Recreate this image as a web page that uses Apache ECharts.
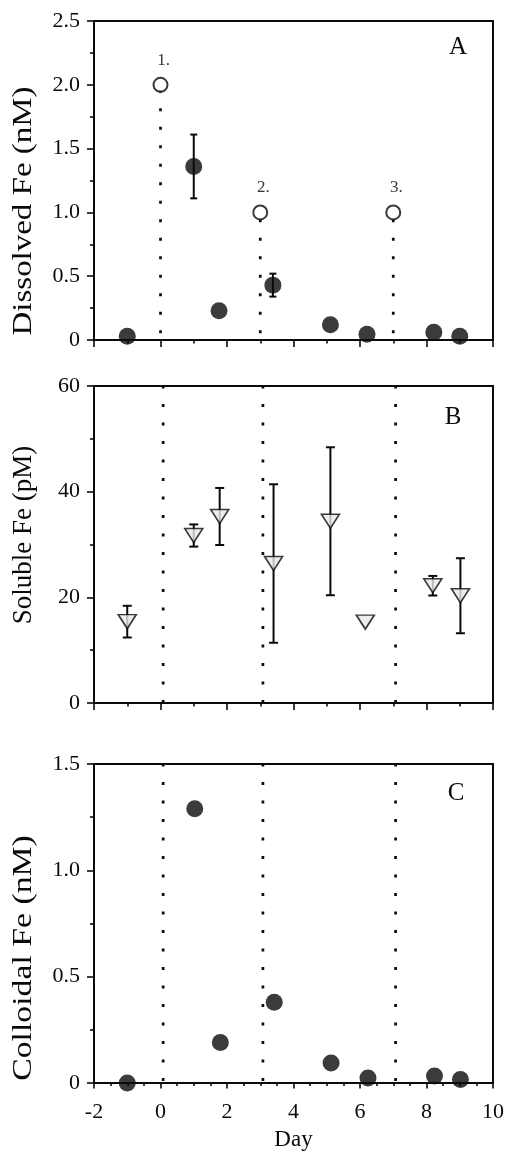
<!DOCTYPE html>
<html>
<head>
<meta charset="utf-8">
<script src="https://cdn.jsdelivr.net/npm/echarts@6/dist/echarts.min.js"></script>
<style>
  html, body { margin: 0; padding: 0; background: #fff; }
  #chart { width: 508px; height: 1152px; }
</style>
</head>
<body>
<div id="chart"></div>
<script>
// ---------------- data ----------------
// Panel A: dissolved Fe (nM)
const dissolvedDays = [-1.0, 1.0, 1.76, 3.38, 5.11, 6.21, 8.22, 9.0];
const dissolvedFe   = [0.03, 1.36, 0.23, 0.43, 0.12, 0.045, 0.06, 0.03];
const dissolvedErr  = [0, 0.25, 0, 0.09, 0, 0, 0, 0];
// Fe additions (open circles + dotted lines in A)
const additionDays   = [0, 3, 7];
const additionFe     = [2.0, 1.0, 1.0];
const additionLabels = ['1.', '2.', '3.'];
// Panel B: soluble Fe (pM)
const solubleDays = [-1.0, 1.0, 1.78, 3.4, 5.11, 6.16, 8.19, 9.02];
const solubleFe   = [15.4, 31.7, 35.3, 26.4, 34.4, 15.3, 22.2, 20.3];
const solubleErr  = [3.0, 2.1, 5.4, 15.0, 14.0, 0, 1.85, 7.1];
// Panel C: colloidal Fe (nM)
const colloidalDays = [-1.0, 1.03, 1.8, 3.42, 5.13, 6.24, 8.24, 9.02];
const colloidalFe   = [0.0, 1.29, 0.19, 0.38, 0.094, 0.024, 0.033, 0.016];
// addition marker lines in B and C
const additionDaysBC = [0.08, 3.08, 7.07];
// axis ticks / labels
const xTickLabels  = ['-2', '0', '2', '4', '6', '8', '10'];
const yTickLabelsA = ['0', '0.5', '1.0', '1.5', '2.0', '2.5'];
const yTickLabelsB = ['0', '20', '40', '60'];
const yTickLabelsC = ['0', '0.5', '1.0', '1.5'];
const yTitles = ['Dissolved Fe (nM)', 'Soluble Fe (pM)', 'Colloidal Fe (nM)'];
const panelLetters = ['A', 'B', 'C'];

// ---------------- styles ----------------
const INK = '#0a0a0a';
const FONT = "'Liberation Serif', 'Times New Roman', serif";
const grids = [
  { left: 94, top: 21, width: 399, height: 319 },
  { left: 94, top: 386, width: 399, height: 317 },
  { left: 94, top: 764, width: 399, height: 319 }
];

function xAxis(i) {
  const isC = i === 2;
  return {
    type: 'value', gridIndex: i, min: -2, max: 10, interval: 2,
    splitLine: { show: false },
    axisLine: { show: true, onZero: false, lineStyle: { color: INK, width: 2 } },
    axisTick: { show: true, inside: false, length: isC ? 5.5 : 7, lineStyle: { color: INK, width: 1.6 } },
    minorTick: { show: true, splitNumber: isC ? 4 : 2, length: isC ? 3 : 3.5, lineStyle: { color: INK, width: 1.6 } },
    axisLabel: {
      show: isC, margin: 18, color: INK, fontFamily: FONT, fontSize: 22,
      formatter: (v) => xTickLabels[Math.round((v + 2) / 2)]
    },
    name: isC ? 'Day' : '',
    nameLocation: 'middle', nameGap: 45,
    nameTextStyle: { color: INK, fontFamily: FONT, fontSize: 23 }
  };
}
function yAxis(i, max, interval, labels) {
  return {
    type: 'value', gridIndex: i, min: 0, max: max, interval: interval,
    splitLine: { show: false },
    axisLine: { show: true, onZero: false, lineStyle: { color: INK, width: 2 } },
    axisTick: { show: true, length: 7, lineStyle: { color: INK, width: 1.6 } },
    minorTick: { show: true, splitNumber: 2, length: 4, lineStyle: { color: INK, width: 1.6 } },
    axisLabel: {
      margin: 14, color: INK, fontFamily: FONT, fontSize: 22,
      formatter: (v) => labels[Math.round(v / interval)]
    }
  };
}

function dottedLine(gi, day, top, offset) {
  return {
    type: 'line', xAxisIndex: gi, yAxisIndex: gi, silent: true, symbol: 'none', z: 1,
    data: [[day, 0], [day, top]],
    lineStyle: { color: INK, width: 2.7, type: [3, 15.5], dashOffset: offset }
  };
}

function errorBars(gi, days, vals, errs, capHalf) {
  const data = [];
  days.forEach((d, i) => { if (errs[i] > 0) data.push([d, vals[i] - errs[i], vals[i] + errs[i]]); });
  return {
    type: 'custom', xAxisIndex: gi, yAxisIndex: gi, silent: true, z: 2,
    data: data,
    renderItem: (params, api) => {
      const x = api.value(0);
      const lo = api.coord([x, api.value(1)]);
      const hi = api.coord([x, api.value(2)]);
      const st = { stroke: INK, lineWidth: 2 };
      return {
        type: 'group', children: [
          { type: 'line', shape: { x1: lo[0], y1: lo[1], x2: hi[0], y2: hi[1] }, style: st },
          { type: 'line', shape: { x1: hi[0] - capHalf, y1: hi[1], x2: hi[0] + capHalf, y2: hi[1] }, style: st },
          { type: 'line', shape: { x1: lo[0] - capHalf, y1: lo[1], x2: lo[0] + capHalf, y2: lo[1] }, style: st }
        ]
      };
    }
  };
}

const zip = (a, b) => a.map((v, i) => [v, b[i]]);

const series = [];
// Panel A
additionDays.forEach((d, i) => series.push(dottedLine(0, d, additionFe[i], 11.7)));
series.push(errorBars(0, dissolvedDays, dissolvedFe, dissolvedErr, 3.5));
series.push({
  type: 'scatter', xAxisIndex: 0, yAxisIndex: 0, clip: false, z: 3,
  data: zip(dissolvedDays, dissolvedFe), symbol: 'circle', symbolSize: 17,
  itemStyle: { color: INK }
});
series.push({
  type: 'scatter', xAxisIndex: 0, yAxisIndex: 0, clip: false, z: 3,
  data: zip(additionDays, additionFe), symbol: 'circle', symbolSize: 14,
  itemStyle: { color: '#fff', borderColor: INK, borderWidth: 2 },
  label: {
    show: true, position: 'top', distance: 8, offset: [3, 0],
    formatter: (p) => additionLabels[p.dataIndex],
    color: '#000', fontFamily: FONT, fontSize: 17
  }
});
// Panel B
additionDaysBC.forEach((d) => series.push(dottedLine(1, d, 60, 0)));
series.push(errorBars(1, solubleDays, solubleFe, solubleErr, 4.5));
series.push({
  type: 'scatter', xAxisIndex: 1, yAxisIndex: 1, clip: false, z: 3,
  data: zip(solubleDays, solubleFe), symbol: 'triangle', symbolSize: [18, 14], symbolRotate: 180,
  itemStyle: { color: '#e8e8e8', borderColor: INK, borderWidth: 1.6 }
});
// Panel C
additionDaysBC.forEach((d) => series.push(dottedLine(2, d, 1.5, 16.6)));
series.push({
  type: 'scatter', xAxisIndex: 2, yAxisIndex: 2, clip: false, z: 3,
  data: zip(colloidalDays, colloidalFe), symbol: 'circle', symbolSize: 17,
  itemStyle: { color: INK }
});

// y-axis titles and panel letters as text
const titleCenters = [[24, 211, 1.22], [24, 535, 1.0], [24, 958, 1.25]];
const letterPos = [[458, 47], [453, 417], [456, 793]];
const graphic = [];
yTitles.forEach((t, i) => {
  graphic.push({
    type: 'text', x: titleCenters[i][0], y: titleCenters[i][1], rotation: Math.PI / 2,
    scaleX: titleCenters[i][2], silent: true,
    style: { text: t, fill: INK, font: "27px 'Liberation Serif', serif", textAlign: 'center', textVerticalAlign: 'middle' }
  });
});
panelLetters.forEach((t, i) => {
  graphic.push({
    type: 'text', x: letterPos[i][0], y: letterPos[i][1], silent: true,
    style: { text: t, fill: INK, font: "25px 'Liberation Serif', serif", textAlign: 'center', textVerticalAlign: 'middle' }
  });
});

const chart = echarts.init(document.getElementById('chart'), null, { renderer: 'canvas' });
chart.setOption({
  animation: false,
  backgroundColor: '#fff',
  grid: grids.map(g => Object.assign({ show: true, borderColor: INK, borderWidth: 2, backgroundColor: 'transparent' }, g)),
  xAxis: [xAxis(0), xAxis(1), xAxis(2)],
  yAxis: [
    yAxis(0, 2.5, 0.5, yTickLabelsA),
    yAxis(1, 60, 20, yTickLabelsB),
    yAxis(2, 1.5, 0.5, yTickLabelsC)
  ],
  graphic: graphic,
  series: series
});
</script>
</body>
</html>
